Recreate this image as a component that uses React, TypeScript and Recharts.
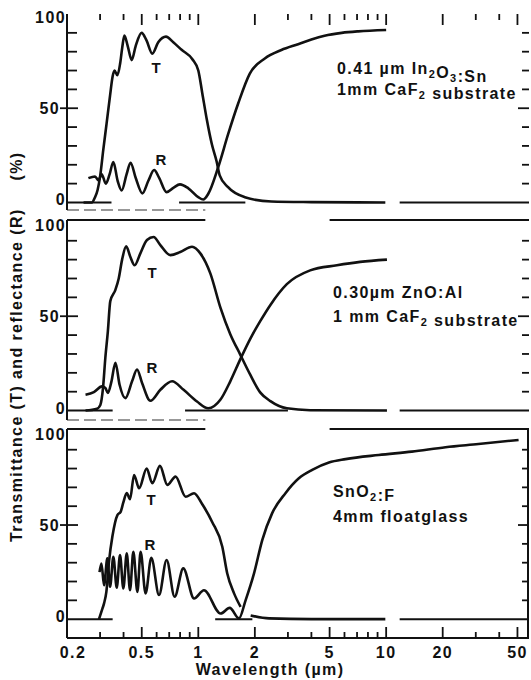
import React from "react";
import { LineChart, Line, XAxis, YAxis, ReferenceLine } from "recharts";

const ink = "#111";
const face = "'Liberation Sans', Arial, Helvetica, sans-serif";

// wavelength axis (µm), log scale
const xDomain: [number, number] = [0.2, 57.6];
const xTicks = [0.2, 0.3, 0.4, 0.5, 0.6, 0.7, 0.8, 0.9, 1, 2, 3, 4, 5, 6, 7, 8, 9, 10, 20, 30, 40, 50];
const xLabelled = [0.2, 0.5, 1, 2, 5, 10, 20, 50];
const yTicks = [0, 10, 20, 30, 40, 50, 60, 70, 80, 90, 100];
const yLabelled = [0, 50, 100];

// 0.41 µm In2O3:Sn, 1mm CaF2
const itoTWave = [0.245, 0.271, 0.282, 0.291, 0.3, 0.312, 0.325, 0.339, 0.35, 0.358, 0.371, 0.384, 0.394, 0.404, 0.421, 0.442, 0.464, 0.499, 0.53, 0.569, 0.612, 0.673, 0.736, 0.815, 0.93, 1.0, 1.05, 1.11, 1.18, 1.25, 1.3, 1.44, 1.77, 2.45, 4.0, 9.9];
const itoT = [0, 0, 2.8, 6.6, 13.7, 27.9, 42, 56.7, 67, 70, 67.5, 74, 82.5, 88.5, 83, 75.5, 83, 90, 86, 79, 85, 88, 85, 81, 76, 70, 58, 44, 31, 22, 14.4, 8.1, 2.8, 0.5, 0.2, 0];
const itoRWave = [0.26, 0.282, 0.294, 0.306, 0.322, 0.337, 0.353, 0.372, 0.391, 0.415, 0.436, 0.464, 0.504, 0.542, 0.582, 0.618, 0.678, 0.736, 0.799, 0.885, 1.0, 1.063, 1.13, 1.277, 1.444, 1.63, 1.88, 2.26, 2.77, 3.4, 4.0, 4.7, 5.8, 7.1, 10.0];
const itoR = [12.9, 13.8, 11.7, 15, 10, 14.9, 21.5, 11.5, 6.4, 14.9, 21.1, 13.1, 4.8, 11.5, 17.2, 13.2, 5.5, 7.8, 9.6, 7.5, 2.8, 1.6, 4.6, 18.8, 36.5, 52.5, 68.4, 76.4, 80.9, 84, 86.5, 88.5, 90, 90.8, 91.5];
const itoZero = [[0.2, 0.345], [0.79, 1.78], [11.8, 57.6]];

// 0.30 µm ZnO:Al, 1 mm CaF2
const azoTWave = [0.251, 0.289, 0.301, 0.311, 0.32, 0.33, 0.34, 0.362, 0.377, 0.393, 0.413, 0.435, 0.458, 0.491, 0.533, 0.578, 0.628, 0.71, 0.802, 0.926, 1.025, 1.16, 1.31, 1.48, 1.67, 1.89, 2.14, 2.42, 2.96, 3.94, 10.1];
const azoT = [0, 1, 3, 12, 28, 42, 58, 64, 70, 80, 87, 81.4, 77, 83.2, 90.4, 92, 87.7, 82.4, 84, 86.8, 83.3, 72.6, 54.7, 40.5, 29.8, 19, 9.5, 5, 1.2, 0.2, 0];
const azoRWave = [0.251, 0.278, 0.307, 0.32, 0.33, 0.345, 0.362, 0.381, 0.409, 0.444, 0.472, 0.502, 0.556, 0.628, 0.725, 0.835, 0.984, 1.13, 1.31, 1.48, 1.67, 1.89, 2.14, 2.42, 2.96, 3.94, 5.47, 7.27, 10.1];
const azoR = [8.4, 9.8, 12.8, 12, 9.3, 15.5, 25.3, 13.7, 6.6, 15.5, 21.8, 14.6, 5.2, 11, 15.5, 11, 4.8, 1.2, 5.7, 15.5, 27, 38, 47.5, 56, 67, 74.3, 77, 78.8, 80];
const azoZero = [[0.2, 0.35], [0.85, 3.0], [11.8, 57.6]];

// SnO2:F on 4mm float glass
const ftoTWave = [0.296, 0.309, 0.315, 0.324, 0.335, 0.349, 0.371, 0.386, 0.399, 0.416, 0.433, 0.455, 0.484, 0.531, 0.569, 0.625, 0.684, 0.757, 0.856, 0.949, 1.05, 1.187, 1.342, 1.426, 1.55, 1.68, 1.78, 1.9, 2.38, 4.0, 9.9];
const ftoT = [0, 5.7, 8.4, 14.5, 31, 44, 55.3, 57, 62, 67, 63.7, 76.6, 69.5, 80, 72.2, 81.4, 71.3, 75.7, 65, 66.9, 61, 51.5, 38.5, 24.3, 13.7, 6.5, null, 2, 0.4, 0, 0];
const ftoRWave = [0.298, 0.305, 0.315, 0.328, 0.339, 0.353, 0.368, 0.383, 0.399, 0.416, 0.433, 0.451, 0.474, 0.493, 0.524, 0.562, 0.618, 0.678, 0.748, 0.832, 0.949, 1.072, 1.314, 1.47, 1.646, 1.785, 1.98, 2.19, 2.47, 2.91, 3.43, 4.04, 4.96, 6.08, 9.13, 13.7, 20.7, 31, 50.7];
const ftoR = [25, 29.6, 18, 32.3, 17.2, 33.1, 16.7, 34, 16.3, 35, 15.4, 35.8, 14.5, 35.8, 13.7, 32.6, 12.8, 31.4, 11.9, 27, 11, 15.4, 3, 6, 0.4, 10, 24.3, 42, 56.2, 66.9, 74.8, 79.3, 83.2, 85, 87.2, 89, 91.3, 93, 95.2];
const ftoZero = [[0.2, 0.35], [1.23, 1.94], [11.8, 57.6]];

// broken frame pieces seen in the scan
const frameRuns = [[0.2, 1.09], [5.0, 57.6]];
const seamRuns = [[0.2, 1.09]];

const W = 531;
const plotLeft = 67;
const plotRight = 529;
const decadePx = (plotRight - plotLeft) / Math.log10(xDomain[1] / xDomain[0]);
const xPx = (v: number) => plotLeft + Math.log10(v / xDomain[0]) * decadePx;

// panel boxes: pixel top/bottom of each plot area and its value range
const boxes = [
  { top: 14, bottom: 210, lo: -4, hi: 100 },
  { top: 220, bottom: 420, lo: -5, hi: 101 },
  { top: 429, bottom: 638, lo: -10, hi: 101 },
];
const yPx = (b: (typeof boxes)[number], v: number) => b.top + ((b.hi - v) / (b.hi - b.lo)) * (b.bottom - b.top);

const pts = (xs: number[], ys: (number | null)[]) => xs.map((x, i) => ({ x, y: ys[i] }));

const txt = { fontFamily: face, fontWeight: 700, fontSize: 16, letterSpacing: 1.4, fill: ink } as const;

function LeftLabel(props: any) {
  const x = Number(props.x);
  const y = Number(props.y);
  const v = props.payload.value;
  if (!yLabelled.includes(v)) return <g />;
  return (
    <text x={v === 50 ? x - 7 : x - 1} y={y} dy={v === 100 ? 9 : v === 0 ? 3 : 6} textAnchor="end" style={txt}>
      {v}
    </text>
  );
}

function BottomLabel(props: any) {
  const x = Number(props.x);
  const y = Number(props.y);
  const v = props.payload.value;
  if (!xLabelled.includes(v)) return <g />;
  return (
    <text x={x + (v === 0.2 ? 6 : 0)} y={y + 20} textAnchor="middle" style={txt}>
      {v}
    </text>
  );
}

interface PanelProps {
  top: number;
  height: number;
  marginTop: number;
  marginBottom: number;
  yDomain: [number, number];
  tWave: number[];
  t: (number | null)[];
  rWave: number[];
  r: number[];
  zero: number[][];
  frame: number[][];
  seam: number[][];
  xAxis: "top" | "bottom" | "none";
}

function Panel(p: PanelProps) {
  const [yMin, yMax] = p.yDomain;
  const axisH = p.xAxis === "bottom" ? 30 : 0;
  const perUnit = (p.height - p.marginTop - p.marginBottom - axisH) / (yMax - yMin);
  const xLen = (v: number) => (xLabelled.includes(v) ? 11 : 6) / perUnit;

  return (
    <div style={{ position: "absolute", left: 0, top: p.top, width: W, height: p.height }}>
      <LineChart width={W} height={p.height} margin={{ top: p.marginTop, right: W - plotRight, bottom: p.marginBottom, left: 0 }}>
        <XAxis
          dataKey="x"
          type="number"
          scale="log"
          domain={xDomain}
          allowDataOverflow
          hide={p.xAxis === "none"}
          orientation={p.xAxis === "top" ? "top" : "bottom"}
          height={axisH}
          ticks={xTicks}
          interval={0}
          tickSize={0}
          tickMargin={0}
          tick={p.xAxis === "bottom" ? (q: any) => <BottomLabel {...q} /> : false}
          tickLine={false}
          axisLine={{ stroke: ink, strokeWidth: 2 }}
        />
        <YAxis
          yAxisId="l"
          type="number"
          domain={p.yDomain}
          allowDataOverflow
          ticks={yTicks}
          interval={0}
          width={plotLeft}
          tickSize={0}
          tickMargin={0}
          tick={(q: any) => <LeftLabel {...q} />}
          tickLine={false}
          axisLine={{ stroke: ink, strokeWidth: 2 }}
        />
        {p.xAxis === "top" &&
          xTicks.slice(1).map((v) => (
            <ReferenceLine key={"X" + v} yAxisId="l" stroke={ink} strokeWidth={1.8} ifOverflow="visible"
              segment={[{ x: v, y: yMax }, { x: v, y: yMax - xLen(v) }]} />
          ))}
        {p.seam.map(([a, b], i) => (
          <ReferenceLine key={"S" + i} yAxisId="l" stroke="#777" strokeWidth={1.5} strokeDasharray="12 5" ifOverflow="visible"
            segment={[{ x: a, y: yMin }, { x: b, y: yMin }]} />
        ))}
        {p.frame.map(([a, b], i) => (
          <ReferenceLine key={"F" + i} yAxisId="l" stroke={ink} strokeWidth={2} ifOverflow="visible"
            segment={[{ x: a, y: yMax }, { x: b, y: yMax }]} />
        ))}
        {p.zero.map(([a, b], i) => (
          <ReferenceLine key={"Z" + i} yAxisId="l" stroke={ink} strokeWidth={2} ifOverflow="visible"
            segment={[{ x: a, y: 0 }, { x: b, y: 0 }]} />
        ))}
        <Line yAxisId="l" data={pts(p.tWave, p.t)} dataKey="y" type="monotone" dot={false} activeDot={false} stroke={ink} strokeWidth={2.6} isAnimationActive={false} />
        <Line yAxisId="l" data={pts(p.rWave, p.r)} dataKey="y" type="monotone" dot={false} activeDot={false} stroke={ink} strokeWidth={2.6} isAnimationActive={false} />
      </LineChart>
    </div>
  );
}

// side and bottom tick marks of the frames
function FrameTicks() {
  const inner = yTicks.slice(1, -1);
  const last = boxes[2];
  return (
    <g stroke={ink} strokeWidth={1.8}>
      {boxes.map((b, i) =>
        inner.map((v) => {
          const y = yPx(b, v);
          const mid = v === 50;
          return (
            <g key={i + "-" + v}>
              <line x1={plotLeft - (mid ? 7 : 0)} x2={plotLeft + (mid ? 11 : 10)} y1={y} y2={y} />
              <line x1={plotRight - (mid ? 11 : 7)} x2={plotRight} y1={y} y2={y} />
            </g>
          );
        })
      )}
      {xTicks.slice(1).map((v) => (
        <line key={"b" + v} x1={xPx(v)} x2={xPx(v)} y1={last.bottom} y2={last.bottom - (xLabelled.includes(v) ? 11 : 6)} />
      ))}
      <line x1={plotRight - 1} x2={plotRight - 1} y1={last.top} y2={last.bottom} strokeWidth={2} />
    </g>
  );
}

const sub = (s: string) => (
  <>
    <tspan dy={4} fontSize={11}>{s}</tspan>
    <tspan dy={-4}>{""}</tspan>
  </>
);

export default function App() {
  const tr = { ...txt, fontSize: 15, letterSpacing: 0 };
  return (
    <div style={{ position: "absolute", left: 0, top: 0, width: W, height: 680, background: "#fff" }}>
      <Panel top={0} height={222} marginTop={14} marginBottom={12} yDomain={[-4, 100]} tWave={itoTWave} t={itoT} rWave={itoRWave} r={itoR} zero={itoZero} frame={[]} seam={seamRuns} xAxis="top" />
      <Panel top={210} height={220} marginTop={10} marginBottom={10} yDomain={[-5, 101]} tWave={azoTWave} t={azoT} rWave={azoRWave} r={azoR} zero={azoZero} frame={frameRuns} seam={seamRuns} xAxis="none" />
      <Panel top={420} height={260} marginTop={9} marginBottom={12} yDomain={[-10, 101]} tWave={ftoTWave} t={ftoT} rWave={ftoRWave} r={ftoR} zero={ftoZero} frame={frameRuns} seam={[]} xAxis="bottom" />
      <svg width={W} height={680} style={{ position: "absolute", left: 0, top: 0, pointerEvents: "none" }}>
        <FrameTicks />
        <text transform="translate(22,542) rotate(-90)" style={txt}>Transmittance (T) and reflectance (R)</text>
        <text transform="translate(22,166) rotate(-90)" textAnchor="middle" style={txt}>(%)</text>
        <text x={270} y={675} textAnchor="middle" style={txt}>Wavelength (µm)</text>

        <text x={156} y={73} textAnchor="middle" style={tr}>T</text>
        <text x={161} y={165} textAnchor="middle" style={tr}>R</text>
        <text x={152} y={278} textAnchor="middle" style={tr}>T</text>
        <text x={152} y={373} textAnchor="middle" style={tr}>R</text>
        <text x={151} y={505} textAnchor="middle" style={tr}>T</text>
        <text x={150} y={550} textAnchor="middle" style={tr}>R</text>

        <text x={337} y={74} style={txt}>
          0.41 µm In{sub("2")}O{sub("3")}:Sn
        </text>
        <text x={337} y={95} style={txt}>
          1mm CaF{sub("2")} substrate
        </text>
        <text x={333} y={298} style={txt}>0.30µm ZnO:Al</text>
        <text x={333} y={322} style={txt}>
          1 mm CaF{sub("2")} substrate
        </text>
        <text x={333} y={497} style={txt}>
          SnO{sub("2")}:F
        </text>
        <text x={333} y={522} style={txt}>4mm floatglass</text>
      </svg>
    </div>
  );
}
